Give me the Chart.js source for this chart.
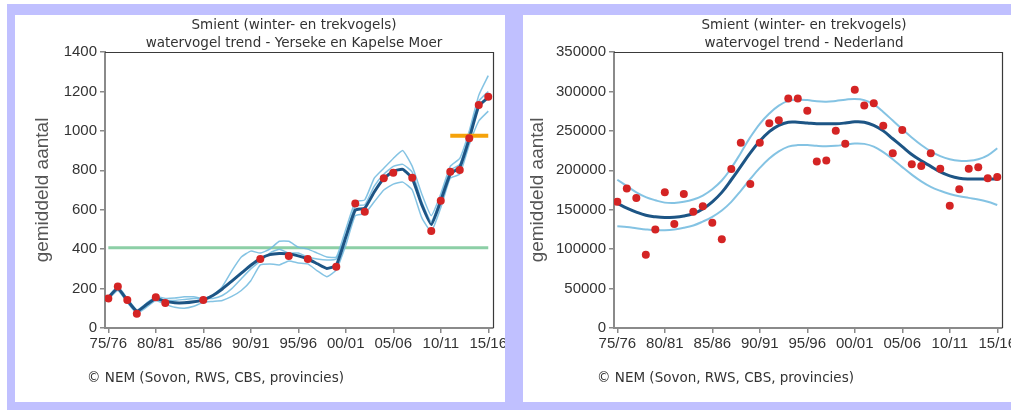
<!DOCTYPE html>
<html lang="nl">
<head>
<meta charset="UTF-8">
<title>Smient (winter- en trekvogels) - watervogel trend</title>
<style>
    html, body {
        margin: 0;
        padding: 0;
        background: #fff;
        overflow: hidden;
    }

    #page {
        position: relative;
        width: 1011px;
        height: 410px;
        overflow: hidden;
    }

    .band {
        position: absolute;
        background: #c0c0ff;
        z-index: 3;
    }

    canvas {
        position: absolute;
        top: 15px;
    }

    .title, .footer {
        position: absolute;
        font-family: 'DejaVu Sans', Verdana, sans-serif;
        font-size: 13.5px;
        line-height: 18px;
        color: #333;
        white-space: nowrap;
        z-index: 2;
    }

    .title {
        top: 15px;
        width: 400px;
        text-align: center;
    }

    .footer {
        top: 368px;
    }
</style>
</head>
<body>
<div id="page">
    <canvas id="left" width="508" height="387" style="left:15px"></canvas>
    <canvas id="right" width="520" height="387" style="left:523px"></canvas>

    <div class="title" style="left:94px">Smient (winter- en trekvogels)<br>watervogel trend - Yerseke en Kapelse Moer</div>
    <div class="title" style="left:604px">Smient (winter- en trekvogels)<br>watervogel trend - Nederland</div>
    <div class="footer" style="left:87px">© NEM (Sovon, RWS, CBS, provincies)</div>
    <div class="footer" style="left:597px">© NEM (Sovon, RWS, CBS, provincies)</div>

    <div class="band" style="left:7px; top:4px; width:1004px; height:11px"></div>
    <div class="band" style="left:7px; top:4px; width:8px; height:406px"></div>
    <div class="band" style="left:505px; top:4px; width:18px; height:406px"></div>
    <div class="band" style="left:7px; top:402px; width:1004px; height:8px"></div>
</div>

<script src="https://cdn.jsdelivr.net/npm/chart.js"></script>
<script>
// seasons (start year of winter season)
const seasons = [1975, 1976, 1977, 1978, 1979, 1980, 1981, 1982, 1983, 1984,
                 1985, 1986, 1987, 1988, 1989, 1990, 1991, 1992, 1993, 1994,
                 1995, 1996, 1997, 1998, 1999, 2000, 2001, 2002, 2003, 2004,
                 2005, 2006, 2007, 2008, 2009, 2010, 2011, 2012, 2013, 2014, 2015];

const tickYears = [1975, 1980, 1985, 1990, 1995, 2000, 2005, 2010, 2015];
const tickLabels = ['75/76', '80/81', '85/86', '90/91', '95/96', '00/01', '05/06', '10/11', '15/16'];

// Yerseke en Kapelse Moer
const leftTrend = [155, 200, 140, 85, 118, 150, 135, 128, 128, 133,
                   143, 165, 198, 238, 278, 318, 352, 372, 378, 376,
                   366, 350, 326, 302, 318, 460, 598, 608, 690, 758,
                   795, 805, 758, 625, 525, 645, 780, 815, 960, 1125, 1170];
const leftUpper = [160, 210, 150, 92, 125, 160, 150, 152, 158, 158,
                   150, 165, 210, 290, 360, 390, 380, 400, 440, 440,
                   410, 400, 380, 360, 360, 500, 640, 650, 760, 810,
                   860, 900, 820, 680, 570, 680, 820, 860, 1000, 1180, 1280];
const leftLower = [145, 190, 130, 75, 105, 140, 120, 105, 100, 110,
                   130, 135, 140, 160, 190, 240, 320, 325, 320, 340,
                   330, 325, 290, 260, 295, 420, 570, 580, 640, 700,
                   730, 740, 700, 560, 490, 610, 760, 780, 930, 1050, 1100];
const leftAlt = [150, 205, 145, 80, 112, 155, 140, 140, 145, 150,
                 150, 150, 165, 200, 250, 300, 340, 380, 400, 380,
                 380, 360, 350, 345, 350, 470, 620, 625, 720, 780,
                 820, 830, 790, 640, 540, 660, 800, 830, 980, 1150, 1200];
const leftDotYears = [1975, 1976, 1977, 1978, 1980, 1981, 1985, 1991, 1994, 1996, 1999,
                      2001, 2002, 2004, 2005, 2007, 2009, 2010, 2011, 2012, 2013, 2014, 2015];
const leftDotValues = [150, 210, 142, 72, 156, 127, 142, 350, 365, 350, 311,
                       632, 590, 759, 788, 762, 492, 646, 793, 801, 962, 1131, 1173];
const leftNormYears = [1975, 2015];
const leftNormValue = 407;
const leftTargetYears = [2011, 2015];
const leftTargetValue = 975;

// Nederland
const rightTrend = [158000, 152000, 147000, 143000, 141000, 140000, 140500, 142000, 145000, 151000,
                    160000, 172000, 188000, 205000, 222000, 237000, 249000, 257000, 261000, 261000,
                    260000, 259000, 259000, 259000, 260000, 261500, 261000, 257000, 250000, 240000,
                    230000, 220000, 212000, 205000, 198000, 193000, 190000, 189000, 189000, 189000, 189000];
const rightUpper = [188000, 180000, 172000, 166000, 162000, 159000, 158500, 160000, 163000, 168000,
                    176000, 187000, 203000, 222000, 242000, 259000, 272000, 282000, 288000, 289500,
                    289000, 287500, 287000, 288000, 289500, 290500, 289000, 283500, 274000, 263000,
                    252000, 241500, 232000, 224000, 218000, 214000, 212000, 212000, 214000, 219000, 228000];
const rightLower = [129000, 128000, 126500, 125000, 124000, 124000, 125000, 127000, 130000, 135000,
                    141000, 149000, 160000, 174000, 189000, 203000, 215000, 224000, 230000, 232000,
                    232000, 231000, 230500, 231000, 232500, 234000, 233500, 230000, 223000, 214000,
                    204000, 194500, 186000, 179000, 174000, 170000, 167000, 165000, 163000, 160000, 156000];
const rightCounts = [160000, 177000, 165000, 93000, 125000, 172000, 132000, 170000, 147500, 154500,
                     133500, 112500, 201500, 235000, 182500, 235000, 259500, 263500, 291000, 291000,
                     275500, 211000, 212500, 250000, 233500, 302000, 282000, 285000, 256500, 221500,
                     251000, 207500, 205500, 221500, 202000, 155000, 176000, 202000, 204000, 190000, 191500];

const trendColor = '#1d5585';
const bandColor = 'rgba(110, 185, 222, 0.85)';
const dotColor = '#d42424';
const axisGray = '#8a8a8a';

function pts(xs, ys) {
    return xs.map((x, i) => ({x: x, y: ys[i]}));
}

const framePlugin = {
    id: 'frame',
    beforeDatasetsDraw(chart) {
        const a = chart.chartArea;
        const ctx = chart.ctx;
        ctx.save();
        ctx.strokeStyle = '#3a3a3a';
        ctx.lineWidth = 1.2;
        ctx.beginPath();
        ctx.moveTo(a.left, a.top + 0.5);
        ctx.lineTo(a.right + 0.5, a.top + 0.5);
        ctx.lineTo(a.right + 0.5, a.bottom);
        ctx.stroke();
        ctx.restore();
    }
};

function makeChart(id, datasets, yMax, yStep, yWidth, titlePad, padRight) {
    return new Chart(document.getElementById(id), {
        type: 'line',
        data: {datasets: datasets},
        options: {
            responsive: false,
            animation: false,
            layout: {padding: {top: 37, right: padRight, bottom: 44, left: 0}},
            plugins: {legend: {display: false}, tooltip: {enabled: false}},
            scales: {
                x: {
                    type: 'linear',
                    min: 1974.65,
                    max: 2015.5,
                    afterBuildTicks: s => { s.ticks = tickYears.map(v => ({value: v})); },
                    afterFit: s => { s.height = 30; s.paddingLeft = 0; s.paddingRight = 0; },
                    grid: {drawOnChartArea: false, drawTicks: true, tickLength: 5, color: axisGray, lineWidth: 1.5},
                    border: {display: true, color: axisGray, width: 2},
                    ticks: {
                        autoSkip: false, maxRotation: 0, minRotation: 0, padding: 2,
                        color: '#333',
                        font: {family: "'Liberation Sans', Arial, sans-serif", size: 15},
                        callback: v => tickLabels[tickYears.indexOf(v)]
                    }
                },
                y: {
                    min: 0,
                    max: yMax,
                    afterFit: s => { s.width = yWidth; s.paddingTop = 0; s.paddingBottom = 0; },
                    grid: {drawOnChartArea: false, drawTicks: true, tickLength: 5, color: axisGray, lineWidth: 1.5},
                    border: {display: true, color: axisGray, width: 2},
                    title: {
                        display: true,
                        text: 'gemiddeld aantal',
                        color: '#555',
                        padding: {top: titlePad, bottom: 0},
                        font: {family: "'Liberation Sans', Arial, sans-serif", size: 19, weight: 'normal'}
                    },
                    ticks: {
                        stepSize: yStep, padding: 3,
                        color: '#333',
                        font: {family: "'Liberation Sans', Arial, sans-serif", size: 15},
                        callback: v => String(v)
                    }
                }
            }
        },
        plugins: [framePlugin]
    });
}

function lineSet(data, color, width, tension, order) {
    return {data: data, borderColor: color, borderWidth: width, pointRadius: 0,
            tension: tension, fill: false, order: order};
}

function dotSet(data, order) {
    return {data: data, showLine: false, pointRadius: 4, pointBackgroundColor: dotColor,
            pointBorderWidth: 0, order: order};
}

makeChart('left', [
    dotSet(pts(leftDotYears, leftDotValues), 0),
    lineSet(pts(leftTargetYears, leftTargetYears.map(() => leftTargetValue)), '#f5a20a', 4, 0, 1),
    lineSet(pts(seasons, leftTrend), trendColor, 3, 0.15, 2),
    lineSet(pts(seasons, leftUpper), bandColor, 1.5, 0.15, 3),
    lineSet(pts(seasons, leftLower), bandColor, 1.5, 0.15, 4),
    lineSet(pts(seasons, leftAlt), bandColor, 1.5, 0.15, 5),
    lineSet(pts(leftNormYears, leftNormYears.map(() => leftNormValue)), '#8ccfa6', 3, 0, 6)
], 1400, 200, 90, 16, 30);

makeChart('right', [
    dotSet(pts(seasons, rightCounts), 0),
    lineSet(pts(seasons, rightTrend), trendColor, 3, 0.4, 1),
    lineSet(pts(seasons, rightUpper), bandColor, 2, 0.4, 2),
    lineSet(pts(seasons, rightLower), bandColor, 2, 0.4, 3)
], 350000, 50000, 91, 3, 41);
</script>
</body>
</html>
